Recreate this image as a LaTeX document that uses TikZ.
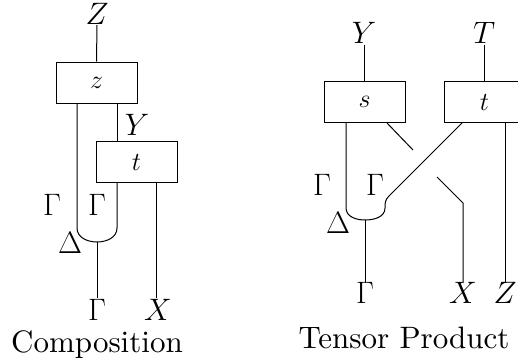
\RequirePackage{fix-cm}
\documentclass[tikz,border=0pt]{standalone}
\usepackage[no-math]{fontspec}
\newfontfamily\lmten{lmroman10-regular.otf}
\begin{document}
\begin{tikzpicture}[x=1pt,y=-1pt,
  box/.style={draw, line width=1pt, minimum width=81pt, minimum height=41pt, inner sep=0pt, font=\fontsize{26}{30}\selectfont},
  wire/.style={line width=1pt},
  big/.style={font=\fontsize{31}{36}\selectfont, inner sep=0pt, anchor=base},
  captext/.style={font=\lmten\fontsize{31}{36}\selectfont, inner sep=0pt, anchor=base}]
\useasboundingbox (0,0) rectangle (518,362);
% ---------- Composition ----------
\node[box] (zb) at (96.5,82.5) {$z$};
\node[box] (tb) at (136.5,162) {$t$};
\node[big] (Zt) at (97,24) {$Z$};
\node[big] (Ym) at (137,135) {$Y$};
\node[big] (G1) at (52,215) {$\Gamma$};
\node[big] (G2) at (97,215) {$\Gamma$};
\node[big] (D1) at (70,253) {$\Delta$};
\node[big] (Gb) at (97,320) {$\Gamma$};
\node[big] (Xb) at (158,320) {$X$};
\node[captext] (comp) at (97,352) {Composition};
\coordinate (zt1) at (97,25);
\coordinate (zbl) at (77,103);
\coordinate (zbr) at (117,103);
\coordinate (ml) at (77,228);
\coordinate (mr) at (117,228);
\coordinate (mc) at (97,242);
\coordinate (me) at (97,298);
\coordinate (tbr) at (156,182);
\coordinate (tbl) at (117,182);
\coordinate (xe) at (156,298);
\draw[wire] (zt1) -- (zb.north);
\draw[wire] (zbr) -- (zbr |- tb.north);
\draw[wire] (zbl) -- (ml) to[out=-90,in=180] (mc) to[out=0,in=-90] (mr) -- (tbl);
\draw[wire] (mc) -- (me);
\draw[wire] (tbr) -- (xe);
% ---------- Tensor Product ----------
\node[box] (sb) at (364.5,102) {$s$};
\node[box] (tr) at (484.5,102) {$t$};
\node[big] (Yt) at (364,43) {$Y$};
\node[big] (Tt) at (484,43) {$T$};
\node[big] (G3) at (322,195) {$\Gamma$};
\node[big] (G4) at (375,195) {$\Gamma$};
\node[big] (D2) at (338,233) {$\Delta$};
\node[big] (Gb2) at (365,303) {$\Gamma$};
\node[big] (Xb2) at (463,303) {$X$};
\node[big] (Zb2) at (505,303) {$Z$};
\node[captext] (tens) at (404,348) {Tensor Product};
\coordinate (yt1) at (364.5,45);
\coordinate (tt1) at (484.5,45);
\coordinate (sbl) at (346,123);
\coordinate (sbr) at (387,123);
\coordinate (trl) at (462,123);
\coordinate (trr) at (505,123);
\coordinate (c1) at (413,150);
\coordinate (c2) at (437,177);
\coordinate (c3) at (463,203);
\coordinate (xe2) at (463,283);
\coordinate (ze2) at (505,283);
\coordinate (d1) at (389,196);
\coordinate (d2) at (385,208);
\coordinate (mc2) at (365,220);
\coordinate (ml2) at (346,208);
\coordinate (me2) at (365,283);
\draw[wire] (yt1) -- (sb.north);
\draw[wire] (tt1) -- (tr.north);
\draw[wire] (sbr) -- (c1);
\draw[wire] (c2) -- (c3) -- (xe2);
\draw[wire] (trl) -- (d1) .. controls (385,200) and (385,203) .. (d2)
   to[out=-90,in=0] (mc2) to[out=180,in=-90] (ml2) -- (sbl);
\draw[wire] (mc2) -- (me2);
\draw[wire] (trr) -- (ze2);
\end{tikzpicture}
\end{document}
